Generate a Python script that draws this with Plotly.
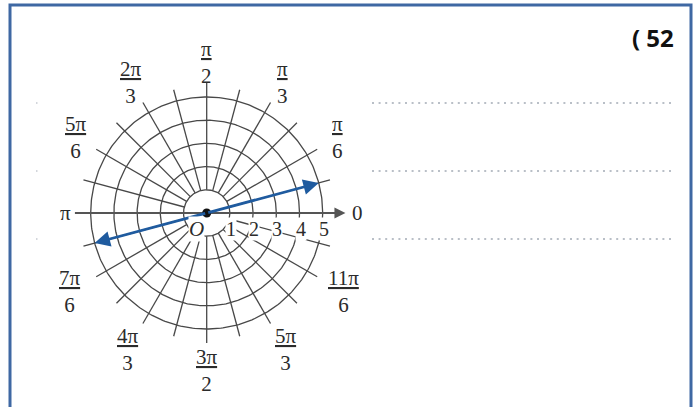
import numpy as np
import plotly.graph_objects as go

# ---- data ----
radii = [1, 2, 3, 4, 5]
tick_labels = ["1", "2", "3", "4", "5"]
spoke_step_deg = 15
label_angles_deg = [0, 30, 60, 90, 120, 150, 180, 210, 240, 270, 300, 330]
label_num = ["0", "π", "π", "π", "2π", "5π", "π", "7π", "4π", "3π", "5π", "11π"]
label_den = ["", "6", "3", "2", "3", "6", "", "6", "3", "2", "3", "6"]
vector_angle_deg = 15
vector_r = [-5, 5]
problem_label = "( 52"

# ---- geometry helpers (1 unit = 23.2 px, origin at (206.7, 213)) ----
U = 23.2
CX, CY = 206.7, 213.0
W, H = 696, 407
xr = [-CX / U, (W - CX) / U]
yr = [-(H - CY) / U, CY / U]

grid_col = "#484848"
fig = go.Figure()

# circles
t = np.linspace(0, 2 * np.pi, 361)
cx, cy = [], []
for r in radii:
    cx += list(r * np.cos(t)) + [None]
    cy += list(r * np.sin(t)) + [None]
fig.add_trace(go.Scatter(x=cx, y=cy, mode="lines",
                         line=dict(color=grid_col, width=1.3), hoverinfo="skip"))

# spokes
sx, sy = [], []
for a in range(spoke_step_deg, 360, spoke_step_deg):
    if a in (0, 180):
        continue
    rad = np.deg2rad(a)
    rend = 5.6 if a in (90, 270) else 5.5
    sx += [radii[0] * np.cos(rad), rend * np.cos(rad), None]
    sy += [radii[0] * np.sin(rad), rend * np.sin(rad), None]
fig.add_trace(go.Scatter(x=sx, y=sy, mode="lines",
                         line=dict(color=grid_col, width=1.3), hoverinfo="skip"))

# polar axis with arrow
fig.add_trace(go.Scatter(x=[-5.68, 5.7], y=[0, 0], mode="lines",
                         line=dict(color="#555555", width=2), hoverinfo="skip"))
fig.add_annotation(x=5.98, y=0, ax=5.3, ay=0, xref="x", yref="y", axref="x", ayref="y",
                   text="", showarrow=True, arrowhead=2, arrowsize=1.1, arrowwidth=2,
                   arrowcolor="#555555")

# blue double arrow vector
va = np.deg2rad(vector_angle_deg)
for r_end in vector_r:
    fig.add_annotation(x=r_end * np.cos(va), y=r_end * np.sin(va), ax=0, ay=0,
                       xref="x", yref="y", axref="x", ayref="y",
                       text="", showarrow=True, arrowhead=2, arrowsize=1.1,
                       arrowwidth=2.8, arrowcolor="#1f5b9f")

# origin dot
fig.add_trace(go.Scatter(x=[0], y=[0], mode="markers",
                         marker=dict(color="#111111", size=9), hoverinfo="skip"))

serif = "Liberation Serif"
txtcol = "#2b2b2b"

# radius tick labels
for r, lab in zip(radii, tick_labels):
    fig.add_annotation(x=r + 0.05, y=-0.68, text=lab, showarrow=False,
                       font=dict(family=serif, size=20, color=txtcol),
                       bgcolor="white", borderpad=0)
fig.add_annotation(x=-0.45, y=-0.68, text="<i>O</i>", showarrow=False,
                   font=dict(family=serif, size=21, color=txtcol),
                   bgcolor="white", borderpad=0)

# angle labels
for a, n, d in zip(label_angles_deg, label_num, label_den):
    rad = np.deg2rad(a)
    if d == "":
        rl = 6.5 if a == 0 else 6.1
        fig.add_annotation(x=rl * np.cos(rad), y=rl * np.sin(rad), text=n, showarrow=False,
                           font=dict(family=serif, size=21, color=txtcol))
    else:
        rl = 6.5 if np.sin(rad) > 0 else 6.8
        fig.add_annotation(x=rl * np.cos(rad), y=rl * np.sin(rad),
                           text=f"<u>{n}</u><br>{d}", showarrow=False,
                           font=dict(family=serif, size=21, color=txtcol))

# dotted answer lines
for py in [103, 171, 239]:
    fig.add_shape(type="line", xref="paper", yref="paper",
                  x0=372 / W, x1=672 / W, y0=1 - py / H, y1=1 - py / H,
                  line=dict(color="#a3aab5", width=1.5, dash="2px,4.6px"))
    fig.add_shape(type="line", xref="paper", yref="paper",
                  x0=36 / W, x1=37.5 / W, y0=1 - py / H, y1=1 - py / H,
                  line=dict(color="#c5c9d0", width=1.5))

# problem number
fig.add_annotation(xref="paper", yref="paper", x=676 / W, y=1 - 37 / H,
                   xanchor="right", yanchor="middle", text="<b>" + problem_label + "</b>",
                   showarrow=False, font=dict(family="Open Sans", size=24, color="#111111"))

# frame
fig.add_shape(type="rect", xref="paper", yref="paper",
              x0=10 / W, x1=691 / W, y0=-0.05, y1=1 - 5 / H,
              line=dict(color="#3f68a3", width=3))

fig.update_layout(width=W, height=H, margin=dict(l=0, r=0, t=0, b=0),
                  plot_bgcolor="white", paper_bgcolor="white", showlegend=False,
                  xaxis=dict(range=xr, visible=False, fixedrange=True),
                  yaxis=dict(range=yr, visible=False, fixedrange=True))
fig.write_html("out.html", config={"displayModeBar": False},
               post_script="document.body.style.margin='0';document.body.style.overflow='hidden';")
